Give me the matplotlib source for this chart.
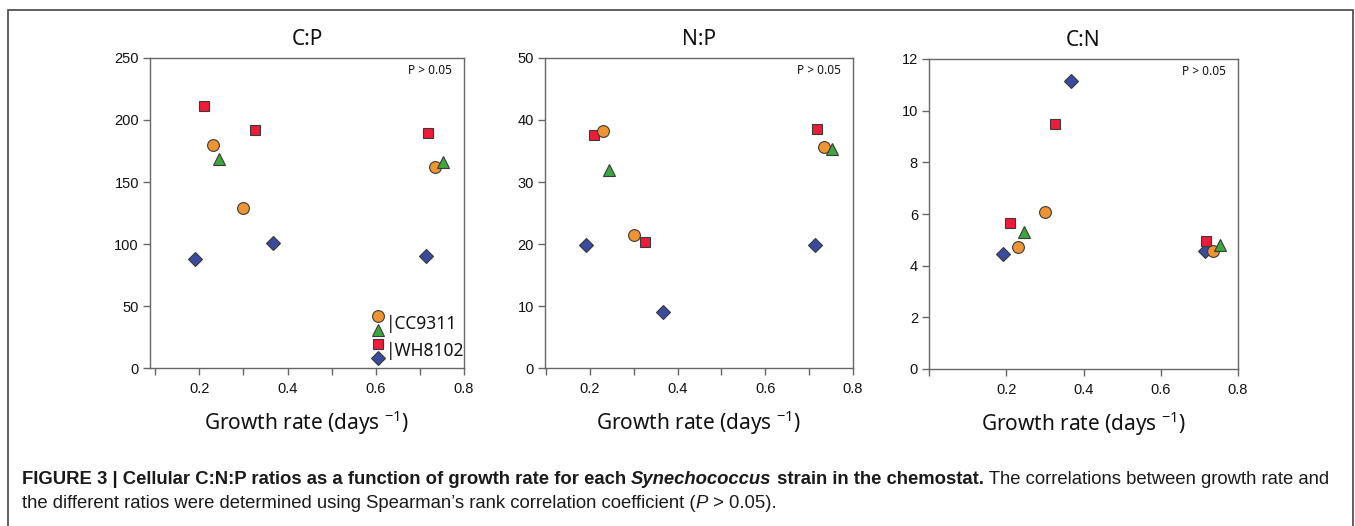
import matplotlib
matplotlib.use("Agg")
import matplotlib.pyplot as plt
from matplotlib import font_manager
from matplotlib.patches import Rectangle

# ---------------- data ----------------
panel_titles = ["C:P", "N:P", "C:N"]
strain_labels = ["CC9311", "WH8102"]

# growth rates (days^-1) per series
gr_circle = [0.230, 0.300, 0.735]     # CC9311 (circle)
gr_triangle = [0.245, 0.753]          # CC9311 (triangle)
gr_square = [0.210, 0.326, 0.718]     # WH8102 (square)
gr_diamond = [0.191, 0.367, 0.714]    # WH8102 (diamond)

# C:P
cp_circle = [179.7, 129.3, 162.2]
cp_triangle = [168.8, 166.5]
cp_square = [211.5, 191.8, 189.7]
cp_diamond = [88.1, 100.8, 90.2]
# N:P
np_circle = [38.2, 21.4, 35.7]
np_triangle = [31.9, 35.3]
np_square = [37.6, 20.4, 38.6]
np_diamond = [19.8, 9.05, 19.9]
# C:N
cn_circle = [4.73, 6.08, 4.58]
cn_triangle = [5.29, 4.80]
cn_square = [5.64, 9.47, 4.94]
cn_diamond = [4.46, 11.14, 4.57]

ylims = [(0, 250), (0, 50), (0, 12)]
yticks = [[0, 50, 100, 150, 200, 250], [0, 10, 20, 30, 40, 50], [0, 2, 4, 6, 8, 10, 12]]
xlims = [(0.088, 0.8), (0.098, 0.8), (0.0, 0.8)]
xminor = [[0.1, 0.3, 0.5, 0.7], [0.1, 0.3, 0.5, 0.7], [0.0]]
xlabels_major = [0.2, 0.4, 0.6, 0.8]
p_text = "P > 0.05"

# ---------------- style ----------------
c_orange = "#EE9532"
c_green = "#3DA63D"
c_red = "#EE1B3B"
c_blue = "#3A4B9E"
edge = "#3a3a3a"
spine_col = "#666666"

avail = {f.name for f in font_manager.fontManager.ttflist}
tick_font = "Liberation Sans"
label_font = "Noto Sans" if "Noto Sans" in avail else "DejaVu Sans"
cap_font = "Liberation Sans Narrow" if "Liberation Sans Narrow" in avail else "Liberation Sans"

W, H = 1355, 526
fig = plt.figure(figsize=(W / 100, H / 100), dpi=100)
fig.patch.set_facecolor("white")

# outer frame
fig.add_artist(Rectangle((8 / W, -0.05), (1353 - 8) / W, 1.05 - 10 / H,
                         transform=fig.transFigure, fill=False,
                         edgecolor="#444444", linewidth=1.2))

positions_px = [(150, 464, 58, 368), (545, 853, 58, 368), (929, 1238, 59, 369)]

series = [
    (gr_circle, [cp_circle, np_circle, cn_circle], "o", c_orange, 8.5),
    (gr_triangle, [cp_triangle, np_triangle, cn_triangle], "^", c_green, 8.0),
    (gr_square, [cp_square, np_square, cn_square], "s", c_red, 7.5),
    (gr_diamond, [cp_diamond, np_diamond, cn_diamond], "D", c_blue, 7.0),
]

axes = []
for i, (l, r, t, b) in enumerate(positions_px):
    ax = fig.add_axes([l / W, (H - b) / H, (r - l) / W, (b - t) / H])
    axes.append(ax)
    for gx, ys, mk, col, ms in [series[3], series[2], series[0], series[1]]:
        ax.plot(gx, ys[i], linestyle="none", marker=mk, markersize=ms,
                markerfacecolor=col, markeredgecolor=edge, markeredgewidth=0.8,
                clip_on=False, zorder=3)
    ax.set_xlim(*xlims[i])
    ax.set_ylim(*ylims[i])
    ax.set_yticks(yticks[i])
    ax.set_xticks(xlabels_major)
    ax.set_xticks(xminor[i], minor=True)
    ax.set_xticklabels([f"{v:.1f}" for v in xlabels_major])
    for sp in ax.spines.values():
        sp.set_color(spine_col)
        sp.set_linewidth(1.0)
    ax.tick_params(axis="both", which="both", direction="out", length=5,
                   width=1.0, color=spine_col, labelsize=10.5, pad=3,
                   labelcolor="#111111")
    ax.tick_params(axis="x", pad=5)
    for lab in ax.get_xticklabels() + ax.get_yticklabels():
        lab.set_fontfamily(tick_font)
    ax.set_title(panel_titles[i], fontsize=15, family=label_font, pad=9,
                 color="#111111")
    ax.set_xlabel("Growth rate (days $^{\\mathregular{-1}}$)", fontsize=15,
                  family=label_font, labelpad=9, color="#111111")
    ax.text(0.89, 0.961, p_text, transform=ax.transAxes, ha="center",
            va="center", fontsize=8.5, family=label_font, color="#111111")

# custom legend in first panel
ax = axes[0]
leg_items = [
    (0.726, 0.168, "o", c_orange, 8.5),
    (0.726, 0.121, "^", c_green, 8.0),
    (0.726, 0.078, "s", c_red, 7.0),
    (0.726, 0.032, "D", c_blue, 7.0),
]
for x, y, mk, col, ms in leg_items:
    ax.plot([x], [y], transform=ax.transAxes, marker=mk, markersize=ms,
            markerfacecolor=col, markeredgecolor=edge, markeredgewidth=0.8,
            linestyle="none", clip_on=False, zorder=4)
ax.text(0.752, 0.142, "|" + strain_labels[0], transform=ax.transAxes,
        ha="left", va="center", fontsize=12.5, family=label_font, color="#111111")
ax.text(0.752, 0.055, "|" + strain_labels[1], transform=ax.transAxes,
        ha="left", va="center", fontsize=12.5, family=label_font, color="#111111")

# ---------------- caption ----------------
cap_size = 13.2
line1 = [
    ("FIGURE 3 | Cellular C:N:P ratios as a function of growth rate for each ", "bold", "normal"),
    ("Synechococcus", "bold", "italic"),
    (" strain in the chemostat.", "bold", "normal"),
    (" The correlations between growth rate and", "normal", "normal"),
]
line2 = [
    ("the different ratios were determined using Spearman\u2019s rank correlation coefficient (", "normal", "normal"),
    ("P", "normal", "italic"),
    (" > 0.05).", "normal", "normal"),
]

fig.canvas.draw()
renderer = fig.canvas.get_renderer()


def draw_line(parts, x0_px, y_px, target_w):
    # measure first, then pick size so that the line spans target width
    probe = []
    total = 0.0
    for s, wgt, sty in parts:
        t = fig.text(0, 0, s, fontsize=cap_size, family=cap_font,
                     weight=wgt, style=sty)
        total += t.get_window_extent(renderer).width
        probe.append(t)
    for t in probe:
        t.remove()
    size = cap_size if target_w is None else cap_size * target_w / total
    x = x0_px
    for s, wgt, sty in parts:
        t = fig.text(x / W, (H - y_px) / H, s, fontsize=size, family=cap_font,
                     weight=wgt, style=sty, ha="left", va="center",
                     color="#1a1a1a")
        x += t.get_window_extent(renderer).width
    return size


sz = draw_line(line1, 22, 480, 1315)
cap_size = sz
draw_line(line2, 22, 504, None)

fig.savefig("out.png", dpi=100, facecolor="white")
